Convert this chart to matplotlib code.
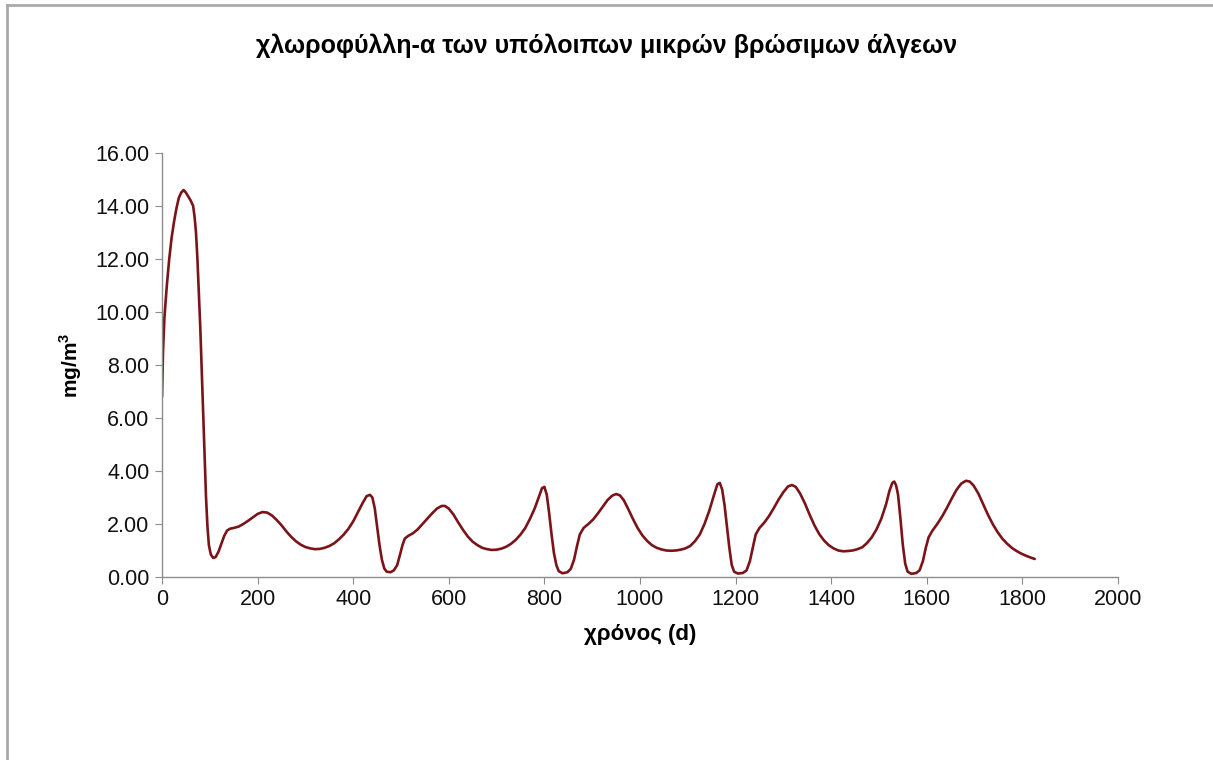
import numpy as np
import matplotlib.pyplot as plt
from matplotlib.lines import Line2D
from matplotlib.ticker import FormatStrFormatter

# values (days, mg/m3)
days = [0, 2, 5, 10, 15, 20, 25, 30, 35, 40, 45, 50, 55, 60, 65, 68, 71, 74, 77, 80,
        83, 86, 89, 92, 95, 98, 102, 107, 112, 118, 124, 130, 136, 142, 150, 160,
        170, 180, 190, 200, 210, 220, 230, 240, 250, 260, 270, 280, 290, 300,
        310, 320, 330, 340, 350, 360, 370, 380, 390, 400, 410, 420, 428, 435,
        440, 445, 450, 455, 460, 465, 470, 478, 485, 492, 498, 503, 508, 515,
        525, 535, 545, 555, 565, 575, 585, 592, 600, 610, 620, 630, 640, 650,
        660, 670, 680, 690, 700, 710, 720, 730, 740, 750, 760, 770, 780, 788,
        795, 800, 805, 810, 815, 820, 825, 830, 838, 848, 855, 862, 868, 874,
        882, 892, 902, 912, 922, 932, 942, 950, 958, 966, 975, 985, 995, 1005,
        1015, 1025, 1035, 1045, 1055, 1065, 1075, 1085, 1095, 1105, 1115, 1125,
        1135, 1145, 1155, 1162, 1167, 1172, 1177, 1182, 1187, 1192, 1197, 1205,
        1215, 1223, 1230, 1236, 1242, 1250, 1260, 1270, 1280, 1290, 1300, 1310,
        1318, 1326, 1335, 1345, 1355, 1365, 1375, 1385, 1395, 1405, 1415, 1425,
        1435, 1445, 1455, 1465, 1475, 1485, 1495, 1505, 1515, 1522, 1528, 1532,
        1536, 1540, 1545, 1550, 1555, 1560, 1568, 1578, 1585, 1592, 1598, 1604,
        1612, 1622, 1632, 1642, 1652, 1662, 1672, 1682, 1690, 1698, 1708, 1718,
        1728, 1738, 1748, 1758, 1768, 1778, 1788, 1798, 1808, 1818, 1826]
chl = [6.8, 8.5, 9.8, 11.0, 12.0, 12.8, 13.4, 13.9, 14.3, 14.5, 14.6, 14.5, 14.35,
       14.2, 14.0, 13.6, 13.0, 12.0, 10.7, 9.4, 7.8, 6.1, 4.5, 3.0, 1.9, 1.2,
       0.85, 0.72, 0.75, 0.95, 1.25, 1.55, 1.75, 1.82, 1.85, 1.9, 2.0, 2.12,
       2.25, 2.38, 2.45, 2.43, 2.32, 2.15, 1.95, 1.72, 1.52, 1.35, 1.22, 1.13,
       1.08, 1.05, 1.06, 1.1, 1.17, 1.27, 1.42, 1.6, 1.82, 2.1, 2.45, 2.8, 3.05,
       3.1, 3.0, 2.6, 1.9, 1.2, 0.65, 0.32, 0.2, 0.18, 0.25, 0.45, 0.85, 1.2,
       1.45, 1.55, 1.65, 1.8, 2.0, 2.2, 2.4, 2.58, 2.68, 2.68, 2.58, 2.35, 2.05,
       1.77, 1.52, 1.33, 1.2, 1.1, 1.05, 1.02, 1.03, 1.07, 1.14, 1.25, 1.4, 1.6,
       1.85, 2.2, 2.6, 3.0, 3.35, 3.4, 3.1, 2.4, 1.6, 0.9, 0.45, 0.22, 0.14,
       0.18, 0.3, 0.65, 1.15, 1.6, 1.85, 2.0, 2.17, 2.4, 2.65, 2.9, 3.07, 3.13,
       3.08, 2.9, 2.58, 2.2, 1.85, 1.57, 1.36, 1.2, 1.1, 1.04, 1.0, 0.99, 1.0,
       1.03, 1.08, 1.17, 1.35, 1.6, 2.0, 2.5, 3.1, 3.5, 3.55, 3.3, 2.7, 1.9,
       1.1, 0.45, 0.2, 0.13, 0.15, 0.25, 0.6, 1.1, 1.6, 1.85, 2.05, 2.3, 2.6,
       2.92, 3.2, 3.42, 3.47, 3.4, 3.15, 2.78, 2.35, 1.95, 1.62, 1.38, 1.2, 1.08,
       1.0, 0.97, 0.98, 1.0, 1.05, 1.12, 1.28, 1.5, 1.8, 2.2, 2.75, 3.25, 3.55,
       3.6, 3.45, 3.1, 2.2, 1.2, 0.5, 0.2, 0.12, 0.15, 0.25, 0.6, 1.1, 1.5,
       1.75, 2.0, 2.28, 2.6, 2.95, 3.28, 3.52, 3.63, 3.6, 3.45, 3.15, 2.75,
       2.35, 2.0, 1.7, 1.45, 1.26, 1.1, 0.98, 0.88, 0.8, 0.73, 0.68]

title = 'χλωροφύλλη-α των υπόλοιπων μικρών βρώσιμων άλγεων'
xlabel = 'χρόνος (d)'
ylabel = 'mg/m$^3$'

plt.rcParams['font.family'] = ['Liberation Sans', 'DejaVu Sans']
plt.rcParams['mathtext.fontset'] = 'custom'
plt.rcParams['mathtext.rm'] = 'Liberation Sans:bold'

fig = plt.figure(figsize=(12.13, 7.6), dpi=100)
ax = fig.add_axes([0.1336, 0.2408, 0.788, 0.558])

ax.plot(days, chl, color='#7a1418', linewidth=1.9,
        solid_capstyle='round', solid_joinstyle='round')

ax.set_xlim(0, 2000)
ax.set_ylim(0, 16)
ax.set_xticks(np.arange(0, 2001, 200))
ax.set_yticks(np.arange(0, 16.1, 2))
ax.yaxis.set_major_formatter(FormatStrFormatter('%.2f'))

for s in ['top', 'right']:
    ax.spines[s].set_visible(False)
for s in ['left', 'bottom']:
    ax.spines[s].set_color('#8c8c8c')
    ax.spines[s].set_linewidth(1.0)
ax.tick_params(direction='out', length=5, color='#8c8c8c', labelsize=15.5,
               labelcolor='#111111', pad=4)

ax.set_xlabel(xlabel, fontsize=16, fontweight='bold', labelpad=10)
ax.set_ylabel(ylabel, fontsize=15, fontweight='bold', labelpad=8)
fig.text(0.5, 0.94, title, fontsize=18, fontweight='bold', ha='center', va='center')

# frame lines at top and left like the original export
fig.add_artist(Line2D([7 / 1213, 1], [1 - 5 / 760, 1 - 5 / 760], color='#aaaaaa', linewidth=2, transform=fig.transFigure))
fig.add_artist(Line2D([7 / 1213, 7 / 1213], [0, 1 - 5 / 760], color='#aaaaaa', linewidth=2, transform=fig.transFigure))

fig.savefig('out.png', dpi=100)
